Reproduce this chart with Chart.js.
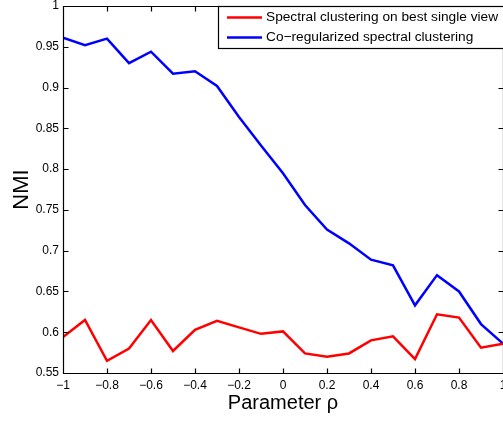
<!DOCTYPE html>
<html>
<head>
<meta charset="utf-8">
<script src="https://cdn.jsdelivr.net/npm/chart.js@4.4.0/dist/chart.umd.min.js"></script>
<style>
  html, body { margin: 0; padding: 0; background: #fff; }
  #wrap { width: 503px; height: 421px; }
</style>
</head>
<body>
<div id="wrap"><canvas id="nmiChart" width="503" height="421"></canvas></div>
<script>
// Data
const rho = [-1, -0.9, -0.8, -0.7, -0.6, -0.5, -0.4, -0.3, -0.2, -0.1, 0,
             0.1, 0.2, 0.3, 0.4, 0.5, 0.6, 0.7, 0.8, 0.9, 1];
const bestSingleView = [0.594, 0.615, 0.565, 0.580, 0.615, 0.577, 0.603, 0.614, 0.606, 0.598, 0.601,
                        0.574, 0.570, 0.574, 0.590, 0.595, 0.567, 0.622, 0.618, 0.581, 0.586];
const coRegularized = [0.961, 0.952, 0.960, 0.930, 0.944, 0.917, 0.920, 0.902, 0.864, 0.829, 0.795,
                       0.756, 0.726, 0.709, 0.689, 0.682, 0.633, 0.670, 0.650, 0.610, 0.586];

const xTickValues = [-1, -0.8, -0.6, -0.4, -0.2, 0, 0.2, 0.4, 0.6, 0.8, 1];
const xTickLabels = ['\u22121', '\u22120.8', '\u22120.6', '\u22120.4', '\u22120.2', '0', '0.2', '0.4', '0.6', '0.8', '1'];
const yTickValues = [0.55, 0.6, 0.65, 0.7, 0.75, 0.8, 0.85, 0.9, 0.95, 1];
const yTickLabels = ['0.55', '0.6', '0.65', '0.7', '0.75', '0.8', '0.85', '0.9', '0.95', '1'];

const FONT = '"Liberation Sans", Arial, Helvetica, sans-serif';
const TICK_LEN = 5;

// Box round the axes with ticks pointing inwards, MATLAB style
const frameTicks = {
    id: 'frameTicks',
    afterDatasetsDraw(chart) {
        const { ctx, chartArea: a, scales: { x, y } } = chart;
        const L = Math.floor(a.left) + 0.5;
        const R = Math.floor(a.right) + 0.5;
        const T = Math.floor(a.top) + 0.5;
        const B = Math.floor(a.bottom) + 0.5;
        ctx.save();
        ctx.strokeStyle = '#000';
        ctx.lineWidth = 1.2;
        ctx.beginPath();
        ctx.rect(L, T, R - L, B - T);
        xTickValues.forEach(v => {
            const px = Math.round(x.getPixelForValue(v)) + 0.5;
            ctx.moveTo(px, B); ctx.lineTo(px, B - TICK_LEN);
            ctx.moveTo(px, T); ctx.lineTo(px, T + TICK_LEN);
        });
        yTickValues.forEach(v => {
            const py = Math.round(y.getPixelForValue(v)) + 0.5;
            ctx.moveTo(L, py); ctx.lineTo(L + TICK_LEN, py);
            ctx.moveTo(R, py); ctx.lineTo(R - TICK_LEN, py);
        });
        ctx.stroke();
        ctx.restore();
    }
};

// Legend box in the top right corner of the axes
const legendBox = {
    id: 'legendBox',
    afterDraw(chart) {
        const { ctx, chartArea: a } = chart;
        const left = 218.5, top = Math.floor(a.top) + 0.5, bottom = 48.5;
        const right = chart.width + 5;
        ctx.save();
        ctx.fillStyle = '#fff';
        ctx.fillRect(left, top, right - left, bottom - top);
        ctx.strokeStyle = '#000';
        ctx.lineWidth = 1.2;
        ctx.strokeRect(left, top, right - left, bottom - top);
        ctx.font = '13.7px ' + FONT;
        ctx.textBaseline = 'middle';
        ctx.textAlign = 'left';
        chart.data.datasets.forEach((ds, i) => {
            const yy = 17.5 + i * 20;
            ctx.strokeStyle = ds.borderColor;
            ctx.lineWidth = 2.5;
            ctx.beginPath();
            ctx.moveTo(227, yy);
            ctx.lineTo(262, yy);
            ctx.stroke();
            ctx.fillStyle = '#000';
            ctx.fillText(ds.label, 266, yy);
        });
        ctx.restore();
    }
};

const ctx = document.getElementById('nmiChart').getContext('2d');
new Chart(ctx, {
    type: 'line',
    data: {
        datasets: [
            {
                label: 'Spectral clustering on best single view',
                data: rho.map((r, i) => ({ x: r, y: bestSingleView[i] })),
                borderColor: '#ff0000',
                borderWidth: 2.5,
                pointRadius: 0,
                tension: 0,
                fill: false
            },
            {
                label: 'Co\u2212regularized spectral clustering',
                data: rho.map((r, i) => ({ x: r, y: coRegularized[i] })),
                borderColor: '#0000ff',
                borderWidth: 2.5,
                pointRadius: 0,
                tension: 0,
                fill: false
            }
        ]
    },
    options: {
        responsive: false,
        animation: false,
        devicePixelRatio: 1,
        layout: { padding: { top: 6, left: 0, right: 0, bottom: 0 } },
        plugins: {
            legend: { display: false },
            tooltip: { enabled: false }
        },
        scales: {
            x: {
                type: 'linear',
                min: -1,
                max: 1,
                grid: { display: false, drawTicks: false },
                border: { display: false },
                afterBuildTicks: s => { s.ticks = xTickValues.map(v => ({ value: v })); },
                afterFit: s => { s.height = 48; s.paddingLeft = 0; s.paddingRight = 0; },
                ticks: {
                    autoSkip: false,
                    maxRotation: 0,
                    padding: 5,
                    color: '#000',
                    font: { family: FONT, size: 12 },
                    callback: (value, index) => xTickLabels[index]
                },
                title: {
                    display: true,
                    text: 'Parameter \u03c1',
                    color: '#000',
                    font: { family: FONT, size: 20 },
                    padding: { top: 0, bottom: 6 }
                }
            },
            y: {
                min: 0.55,
                max: 1,
                grid: { display: false, drawTicks: false },
                border: { display: false },
                afterBuildTicks: s => { s.ticks = yTickValues.map(v => ({ value: v })); },
                afterFit: s => { s.width = 63; s.paddingTop = 0; s.paddingBottom = 0; },
                ticks: {
                    autoSkip: false,
                    padding: 4,
                    color: '#000',
                    font: { family: FONT, size: 12 },
                    callback: (value, index) => yTickLabels[index]
                },
                title: {
                    display: true,
                    text: 'NMI',
                    color: '#000',
                    font: { family: FONT, size: 22 },
                    padding: { top: 8.5, bottom: 0 }
                }
            }
        }
    },
    plugins: [frameTicks, legendBox]
});
</script>
</body>
</html>
